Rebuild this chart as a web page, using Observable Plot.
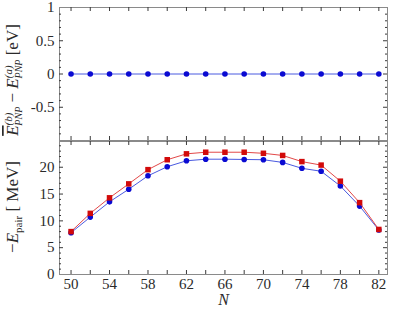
<!DOCTYPE html>
<html>
<head>
<meta charset="utf-8">
<script src="https://cdn.jsdelivr.net/npm/d3@7"></script>
<script src="https://cdn.jsdelivr.net/npm/@observablehq/plot@0.6"></script>
<style>
  body { margin: 0; background: #fff; }
  #wrap { position: relative; width: 395px; height: 311px; }
  #wrap svg { position: absolute; left: 0; }
</style>
</head>
<body>
<div id="wrap"></div>
<script>
const N = [50, 52, 54, 56, 58, 60, 62, 64, 66, 68, 70, 72, 74, 76, 78, 80, 82];
const diffPNP = [0, 0, 0, 0, 0, 0, 0, 0, 0, 0, 0, 0, 0, 0, 0, 0, 0];
const pairBlue = [7.8, 10.7, 13.55, 15.9, 18.4, 20.1, 21.2, 21.5, 21.5, 21.45, 21.4, 20.9, 19.8, 19.25, 16.5, 12.75, 8.3];
const pairRed = [8.0, 11.4, 14.3, 16.9, 19.55, 21.4, 22.5, 22.8, 22.8, 22.8, 22.6, 22.2, 21.05, 20.4, 17.4, 13.4, 8.4];
const xTicksMinor = [50, 52, 54, 56, 58, 60, 62, 64, 66, 68, 70, 72, 74, 76, 78, 80, 82];
const xTickLabels = [50, 54, 58, 62, 66, 70, 74, 78, 82];
const topYLabels = [1, 0.5, 0, -0.5];
const topYMinor = [-0.9, -0.8, -0.7, -0.6, -0.4, -0.3, -0.2, -0.1, 0.1, 0.2, 0.3, 0.4, 0.6, 0.7, 0.8, 0.9];
const topYMajor = [-0.5, 0, 0.5];
const botYLabels = [0, 5, 10, 15, 20];
const botYMinor = [1, 2, 3, 4, 6, 7, 8, 9, 11, 12, 13, 14, 16, 17, 18, 19, 21, 22, 23, 24];
const botYMajor = [5, 10, 15, 20];

const blueMark = "#0a0ad2";
const blueLine = "#4a5ae0";
const redMark = "#d20a0a";
const redLine = "#e24848";
const frameCol = "#8a8a8a";
const tickCol = "#3a3a3a";
const textCol = "#2a2a2a";

const W = 395, mL = 59, mR = 8;
const xDomain = [48.8, 82.9];
const serifFace = "'Liberation Serif'";

function tickMarks(fh, fw, xt, yMaj, yMin) {
  return [
    Plot.tickX(xt, {x: d => d, stroke: tickCol, insetTop: fh - 4}),
    Plot.tickX(xt, {x: d => d, stroke: tickCol, insetBottom: fh - 4}),
    Plot.tickY(yMaj, {y: d => d, stroke: tickCol, insetRight: fw - 4}),
    Plot.tickY(yMaj, {y: d => d, stroke: tickCol, insetLeft: fw - 4}),
    Plot.tickY(yMin, {y: d => d, stroke: tickCol, insetRight: fw - 2}),
    Plot.tickY(yMin, {y: d => d, stroke: tickCol, insetLeft: fw - 2})
  ];
}

// top panel
const tH = 141, tMT = 7, tMB = 1;
const topData = N.map((n, i) => ({N: n, v: diffPNP[i]}));
const topPlot = Plot.plot({
  width: W, height: tH,
  marginLeft: mL, marginRight: mR, marginTop: tMT, marginBottom: tMB,
  x: {domain: xDomain, axis: null},
  y: {domain: [-1, 1], axis: null},
  style: {fontFamily: serifFace, fontSize: "15px", color: textCol, background: "transparent", overflow: "visible"},
  marks: [
    Plot.line(topData, {x: "N", y: "v", stroke: blueLine, strokeWidth: 1}),
    Plot.dot(topData, {x: "N", y: "v", r: 2.8, fill: blueMark}),
    Plot.frame({stroke: frameCol}),
    ...tickMarks(tH - tMT - tMB, W - mL - mR, xTicksMinor, topYMajor, topYMinor),
    Plot.axisY(topYLabels, {tickSize: 0, tickPadding: 5, fontSize: 15, label: null, tickFormat: d => String(d)})
  ]
});
topPlot.style.top = "0px";

// bottom panel
const bH = 170, bMT = 0, bMB = 37;
const botBlue = N.map((n, i) => ({N: n, v: pairBlue[i]}));
const botRed = N.map((n, i) => ({N: n, v: pairRed[i]}));
const botPlot = Plot.plot({
  width: W, height: bH,
  marginLeft: mL, marginRight: mR, marginTop: bMT, marginBottom: bMB,
  x: {domain: xDomain, axis: null},
  y: {domain: [0, 24.8], axis: null},
  style: {fontFamily: serifFace, fontSize: "15px", color: textCol, background: "transparent", overflow: "visible"},
  marks: [
    Plot.line(botBlue, {x: "N", y: "v", stroke: blueLine, strokeWidth: 1}),
    Plot.dot(botBlue, {x: "N", y: "v", r: 2.8, fill: blueMark}),
    Plot.line(botRed, {x: "N", y: "v", stroke: redLine, strokeWidth: 1}),
    Plot.dot(botRed, {x: "N", y: "v", symbol: "square", r: 3.1, fill: redMark}),
    Plot.frame({stroke: frameCol}),
    ...tickMarks(bH - bMT - bMB, W - mL - mR, xTicksMinor, botYMajor, botYMinor),
    Plot.axisY(botYLabels, {tickSize: 0, tickPadding: 5, fontSize: 15, label: null}),
    Plot.axisX(xTickLabels, {tickSize: 0, tickPadding: 4, fontSize: 15, label: null}),
    Plot.text(["N"], {frameAnchor: "bottom", dy: 30, text: d => d, fontStyle: "italic", fontSize: 16, fill: textCol})
  ]
});
botPlot.style.top = "141px";

const wrap = document.getElementById("wrap");
wrap.appendChild(topPlot);
wrap.appendChild(botPlot);

// y-axis titles
{
  const t = d3.select(topPlot).append("text")
    .attr("transform", "translate(18,80) rotate(-90)")
    .attr("text-anchor", "middle")
    .attr("fill", textCol)
    .style("font-family", serifFace)
    .style("font-size", "17px");
  t.append("tspan").style("font-style", "italic").style("text-decoration", "overline").text("E");
  t.append("tspan").attr("dy", -6).style("font-size", "11px").style("font-style", "italic").text("(b)");
  t.append("tspan").attr("dx", -13).attr("dy", 10).style("font-size", "10px").style("font-style", "italic").text("PNP");
  t.append("tspan").attr("dy", -4).text(" \u2212 ");
  t.append("tspan").style("font-style", "italic").text("E");
  t.append("tspan").attr("dy", -6).style("font-size", "11px").style("font-style", "italic").text("(a)");
  t.append("tspan").attr("dx", -13).attr("dy", 10).style("font-size", "10px").style("font-style", "italic").text("PNP");
  t.append("tspan").attr("dy", -4).text(" [eV]");
}
{
  const t = d3.select(botPlot).append("text")
    .attr("transform", "translate(18,66) rotate(-90)")
    .attr("text-anchor", "middle")
    .attr("fill", textCol)
    .style("font-family", serifFace)
    .style("font-size", "17px");
  t.append("tspan").text("\u2212");
  t.append("tspan").style("font-style", "italic").text("E");
  t.append("tspan").attr("dy", 4).style("font-size", "11px").text("pair");
  t.append("tspan").attr("dy", -4).text(" [ MeV]");
}

// set the serif face on every text node as well
d3.selectAll("#wrap text").attr("font-family", "Liberation Serif").style("font-family", serifFace);
</script>
</body>
</html>
